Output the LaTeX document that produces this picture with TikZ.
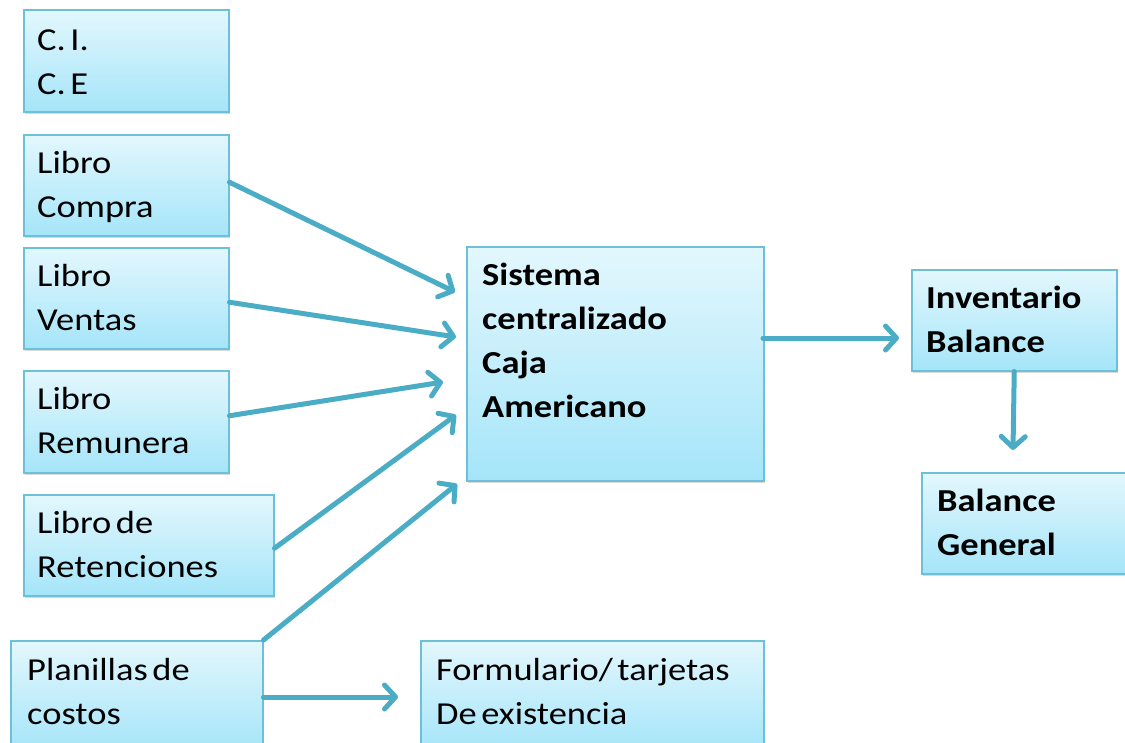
\documentclass[tikz,border=0pt]{standalone}
\usepackage{fontspec}
\setmainfont{Carlito}[FakeStretch=1.14, WordSpace=0.55]
\usetikzlibrary{arrows.meta,shadows}
\definecolor{arrowc}{HTML}{4BACC6}
\definecolor{boxline}{HTML}{6CC0D8}
\definecolor{boxtop}{HTML}{E3F7FD}
\definecolor{boxbot}{HTML}{A5E5F9}
\tikzset{
  box/.style={anchor=north west, inner sep=0pt, draw=boxline, line width=1.5pt,
    top color=boxtop, bottom color=boxbot,
    drop shadow={shadow xshift=1.5pt, shadow yshift=-2pt, opacity=0.25, fill=black!60}},
  txt/.style={anchor=base west, inner sep=0pt, font=\fontsize{32}{44}\selectfont},
  btxt/.style={txt, font=\fontsize{32}{44}\selectfont\bfseries},
  conn/.style={draw=arrowc, line width=5pt, line cap=round,
    -{Straight Barb[length=11pt, width=24pt, line cap=round, line join=round]}}
}
\newcommand{\twolines}[2]{\parbox[t]{400pt}{#1\\#2}}
\begin{document}
\begin{tikzpicture}[x=1pt,y=-1pt]
\useasboundingbox (0,0) rectangle (1125,742);
% boxes
\node[box, minimum width=205pt, minimum height=102pt] (ci) at (23,9) {};
\node[box, minimum width=205pt, minimum height=101pt] (compra) at (23,134) {};
\node[box, minimum width=205pt, minimum height=101pt] (ventas) at (23,247) {};
\node[box, minimum width=205pt, minimum height=102pt] (remun) at (23,370) {};
\node[box, minimum width=250pt, minimum height=101pt] (reten) at (23,494) {};
\node[box, minimum width=252pt, minimum height=110pt] (plan) at (10,640) {};
\node[box, minimum width=343pt, minimum height=110pt] (form) at (420,640) {};
\node[box, minimum width=297pt, minimum height=234pt] (sis) at (466,246) {};
\node[box, minimum width=205pt, minimum height=101pt] (inv) at (911,269) {};
\node[box, minimum width=215pt, minimum height=101pt] (bg) at (921,472) {};
% texts
\node[txt] (ci-t) at (37,50) {\twolines{C. I.}{C. E}};
\node[txt] (compra-t) at (37,173) {\twolines{Libro}{Compra}};
\node[txt] (ventas-t) at (37,286) {\twolines{Libro}{Ventas}};
\node[txt] (remun-t) at (37,409) {\twolines{Libro}{Remunera}};
\node[txt] (reten-t) at (37,533) {\twolines{Libro de}{Retenciones}};
\node[txt] (plan-t) at (27,680) {\twolines{Planillas de}{costos}};
\node[txt] (form-t) at (436,680) {\twolines{Formulario/ tarjetas}{De existencia}};
\node[btxt] (sis-t) at (482,285) {\parbox[t]{300pt}{Sistema\\centralizado\\Caja\\Americano}};
\node[btxt] (inv-t) at (926,308) {\twolines{Inventario}{Balance}};
\node[btxt] (bg-t) at (937,511) {\twolines{Balance}{General}};
% connector ends
\coordinate (t1) at (455,292);
\coordinate (t2) at (456,337);
\coordinate (t3) at (443,382);
\coordinate (t4) at (456,415);
\coordinate (t5) at (457,484);
\coordinate (t6) at (398,697);
\coordinate (s7) at (763,338);
\coordinate (t7) at (899,338);
\coordinate (t8) at (1013,450);
\draw[conn] (compra.east) ++(0,-3) -- (t1);
\draw[conn] (ventas.east) ++(0,4) -- (t2);
\draw[conn] (remun.east) ++(0,-6) -- (t3);
\draw[conn] (reten.east) ++(0,3) -- (t4);
\draw[conn] (plan.north east) -- (t5);
\draw[conn] (plan.east |- t6) -- (t6);
\draw[conn] (s7) -- (t7);
\draw[conn] (inv.south) -- (t8);
\end{tikzpicture}
\end{document}
